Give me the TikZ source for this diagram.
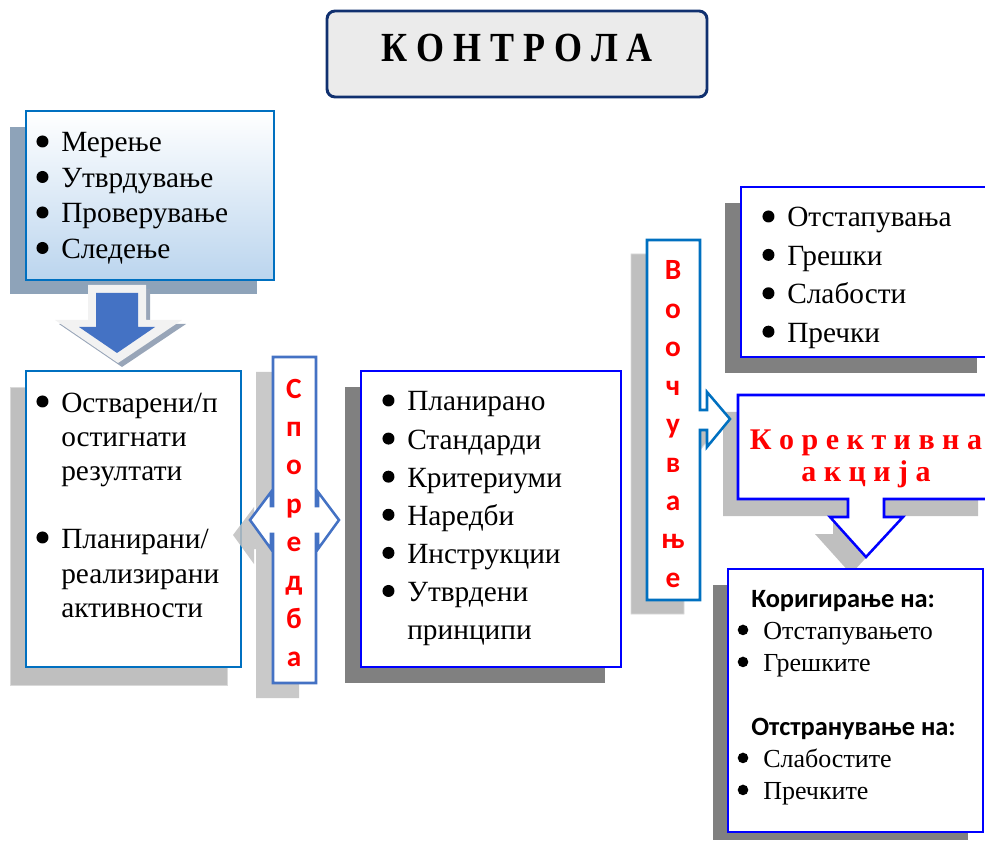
\documentclass[tikz,border=0pt]{standalone}
\usepackage{fontspec}
\setmainfont{Liberation Serif}
\newfontfamily\calibri{Carlito}

\definecolor{navyline}{HTML}{10306F}
\definecolor{titlegray}{HTML}{EBEBEB}
\definecolor{boxblue}{HTML}{0070C0}
\definecolor{arrowblue}{HTML}{4472C4}
\definecolor{pureblue}{HTML}{0000FF}
\definecolor{shadowdark}{HTML}{808080}
\definecolor{shadowlight}{HTML}{BFBFBF}
\definecolor{shadowedge}{HTML}{D9D9D9}
\definecolor{shadowblue}{HTML}{8EA3B9}
\definecolor{lightblue}{HTML}{BBD5EE}
\definecolor{arrowwhite}{HTML}{F2F2F2}
\definecolor{arrowshadow}{HTML}{98A5B8}

\tikzset{
  txt/.style={anchor=base west, inner sep=0pt, font=\fontsize{22}{26}\selectfont},
  smalltxt/.style={txt, font=\fontsize{19.5}{23}\selectfont},
  headtxt/.style={txt, font=\calibri\bfseries\fontsize{19.8}{22}\selectfont},
  redletter/.style={anchor=base, inner sep=0pt, text=red, font=\calibri\bfseries\fontsize{22}{26}\selectfont},
  redtxt/.style={anchor=base, inner sep=0pt, text=red, font=\bfseries\fontsize{22.5}{26}\selectfont},
  titletxt/.style={anchor=base, inner sep=0pt, font=\bfseries\fontsize{27}{30}\selectfont},
  lightshadow/.style={fill=shadowlight, draw=shadowedge, line width=0.6pt},
  frame/.style={line width=1.9pt, fill=white}
}

\begin{document}
\begin{tikzpicture}[x=0.75pt, y=-0.75pt]
\useasboundingbox (0,0) rectangle (985,841);

% naslov
\draw [navyline, line width=2.2pt, fill=titlegray, rounded corners=6pt] (327,11) rectangle (707,97);
\node [titletxt] (ttl) at (517,62) {\scalebox{1}[1.15]{К О Н Т Р О Л А}};

% merenje
\fill [shadowblue] (10,127) rectangle (257,294);
\draw [boxblue, line width=1.6pt, top color=white, bottom color=lightblue] (26,111) rectangle (274,280);
\foreach \t [count=\i] in {Мерење,Утврдување,Проверување,Следење}
  \node [txt] (m\i) at (61,{152+35.5*(\i-1)}) {\t};

% strelka nadolu
\fill [arrowshadow, shift={(4,4)}] (88,285) -- (146,285) -- (146,320) -- (182,320) -- (118,363) -- (55,320) -- (88,320) -- cycle;
\fill [arrowwhite] (88,285) -- (146,285) -- (146,320) -- (182,320) -- (118,363) -- (55,320) -- (88,320) -- cycle;
\fill [arrowblue] (96,293) -- (138,293) -- (138,327) -- (155,327) -- (117,353) -- (79,327) -- (96,327) -- cycle;

% ostvareni rezultati
\draw [lightshadow] (10,387) rectangle (227,685);
\draw [boxblue, frame] (26,371) rectangle (241,667);
\node [txt] (r1) at (61,412) {Остварени/п};
\node [txt] (r2) at (61,446) {остигнати};
\node [txt] (r3) at (61,480) {резултати};
\node [txt] (r4) at (61,548) {Планирани/};
\node [txt] (r5) at (61,583) {реализирани};
\node [txt] (r6) at (61,617) {активности};

% sporedba
\fill [shadowlight, fill opacity=0.85, shift={(-17,15)}] (273,357) -- (316,357) -- (316,506) -- (318,506) -- (318,492) -- (339,520) -- (318,549) -- (318,534) -- (316,534) -- (316,683) -- (273,683) -- (273,534) -- (271,534) -- (271,549) -- (250,520) -- (271,492) -- (271,506) -- (273,506) -- cycle;
\draw [arrowblue, frame] (273,357) -- (316,357) -- (316,506) -- (318,506) -- (318,492) -- (339,520) -- (318,549) -- (318,534) -- (316,534) -- (316,683) -- (273,683) -- (273,534) -- (271,534) -- (271,549) -- (250,520) -- (271,492) -- (271,506) -- (273,506) -- cycle;
\foreach \c [count=\i] in {С,п,о,р,е,д,б,а}
  \node [redletter] (s\i) at (294,{398+38.4*(\i-1)}) {\c};

% planirano
\fill [shadowdark] (345,387) rectangle (605,683);
\draw [pureblue, frame] (361,371) rectangle (621,667);
\foreach \t [count=\i] in {Планирано,Стандарди,Критериуми,Наредби,Инструкции,Утврдени}
  \node [txt] (p\i) at (407,{411+38.1*(\i-1)}) {\t};
\node [txt] (p7) at (407,639) {принципи};

% otstapuvanja
\fill [shadowdark] (725,203) rectangle (977,373);
\draw [pureblue, frame] (741,187) rectangle (993,357);
\foreach \t [count=\i] in {Отстапувања,Грешки,Слабости,Пречки}
  \node [txt] (o\i) at (787,{227+38.4*(\i-1)}) {\t};

% korektivna akcija - senka
\fill [shadowlight, shift={(-15,17)}] (738,395) -- (993,395) -- (993,499) -- (884,499) -- (884,517) -- (903,517) -- (866,557) -- (830,517) -- (848,517) -- (848,499) -- (738,499) -- cycle;

% voocuvanje
\draw [lightshadow, shift={(-16,14)}] (647,240) -- (700,240) -- (700,410) -- (707,410) -- (707,392) -- (730,419) -- (707,447) -- (707,430) -- (700,430) -- (700,600) -- (647,600) -- cycle;
\draw [boxblue, frame] (647,240) -- (700,240) -- (700,410) -- (707,410) -- (707,392) -- (730,419) -- (707,447) -- (707,430) -- (700,430) -- (700,600) -- (647,600) -- cycle;
\foreach \c [count=\i] in {В,о,о,ч,у,в,а,њ,е}
  \node [redletter] (v\i) at (673,{280+38.4*(\i-1)}) {\c};

% korektivna akcija
\draw [pureblue, frame] (738,395) -- (993,395) -- (993,499) -- (884,499) -- (884,517) -- (903,517) -- (866,557) -- (830,517) -- (848,517) -- (848,499) -- (738,499) -- cycle;
\node [redtxt] (k1) at (866,450) {К о р е к т и в н а};
\node [redtxt] (k2) at (866,481) {а к ц и ј а};

% korigiranje
\fill [shadowdark] (713,585) rectangle (968,840);
\draw [pureblue, frame] (728,569) rectangle (983,832);
\node [headtxt] (c1) at (751,607) {Коригирање на:};
\node [smalltxt] (c2) at (763,639) {Отстапувањето};
\node [smalltxt] (c3) at (763,671) {Грешките};
\node [headtxt] (c4) at (751,735) {Отстранување на:};
\node [smalltxt] (c5) at (763,767) {Слабостите};
\node [smalltxt] (c6) at (763,799) {Пречките};

% bullets
\foreach \n in {m1,m2,m3,m4,r1,r4,p1,p2,p3,p4,p5,p6,o1,o2,o3,o4}
  \fill ([xshift=-13.9pt, yshift=7.9pt]\n.base west) circle (6);
\foreach \n in {c2,c3,c5,c6}
  \fill ([xshift=-15pt, yshift=6.8pt]\n.base west) circle (5.3);
\end{tikzpicture}
\end{document}
